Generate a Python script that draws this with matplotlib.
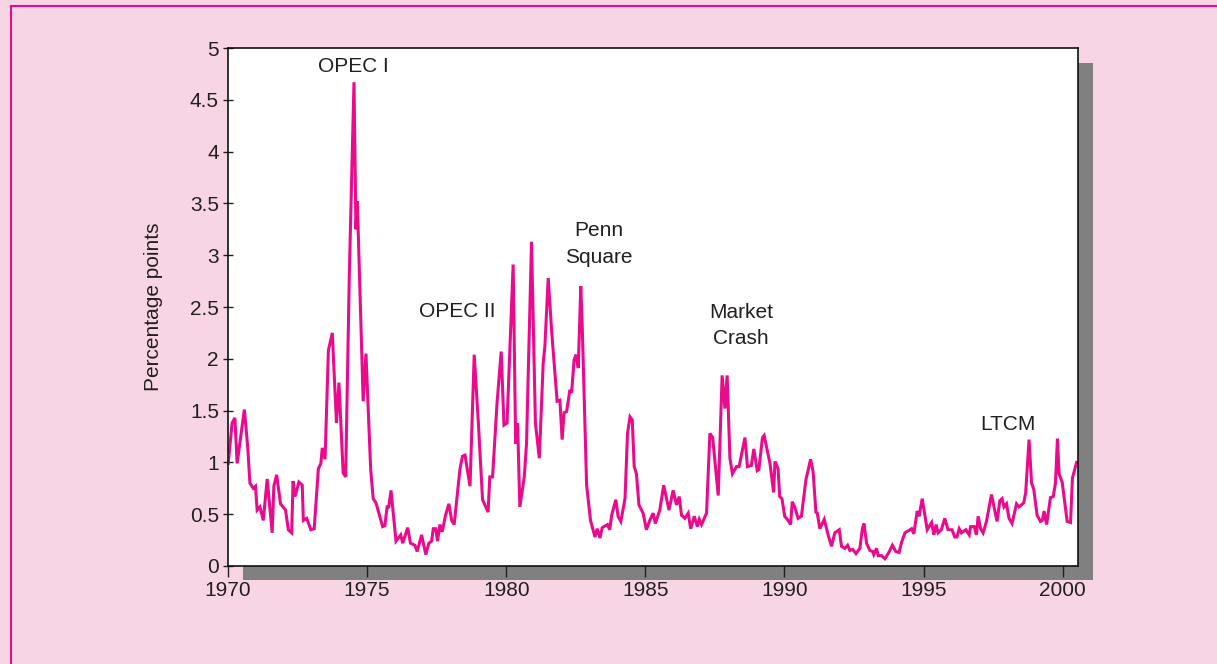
import matplotlib
matplotlib.use('Agg')
import matplotlib.pyplot as plt
from matplotlib.patches import Rectangle
from matplotlib.lines import Line2D
from matplotlib.transforms import ScaledTranslation
from matplotlib.ticker import FuncFormatter

plt.rcParams['font.family'] = ['Liberation Sans', 'DejaVu Sans']

# spread, percentage points (vertices)
years = [
    1970.01, 1970.15, 1970.25, 1970.33, 1970.59, 1970.71, 1970.79, 1970.91, 1970.99, 1971.05,
    1971.15, 1971.27, 1971.41, 1971.59, 1971.65, 1971.75, 1971.89, 1972.07, 1972.17, 1972.29,
    1972.34, 1972.41, 1972.55, 1972.67, 1972.71, 1972.83, 1972.98, 1973.10, 1973.25, 1973.34,
    1973.39, 1973.49, 1973.61, 1973.75, 1973.90, 1973.99, 1974.14, 1974.23, 1974.36, 1974.53,
    1974.60, 1974.65, 1974.86, 1974.96, 1975.13, 1975.22, 1975.32, 1975.56, 1975.64, 1975.72,
    1975.78, 1975.86, 1976.04, 1976.21, 1976.28, 1976.46, 1976.56, 1976.72, 1976.80, 1976.96,
    1977.11, 1977.22, 1977.32, 1977.38, 1977.47, 1977.53, 1977.62, 1977.70, 1977.82, 1977.94,
    1978.04, 1978.13, 1978.34, 1978.43, 1978.52, 1978.70, 1978.85, 1979.00, 1979.15, 1979.35,
    1979.41, 1979.51, 1979.67, 1979.82, 1979.92, 1980.03, 1980.25, 1980.34, 1980.41, 1980.49,
    1980.65, 1980.73, 1980.91, 1981.05, 1981.19, 1981.33, 1981.39, 1981.51, 1981.63, 1981.83,
    1981.93, 1982.01, 1982.08, 1982.17, 1982.29, 1982.35, 1982.44, 1982.51, 1982.59, 1982.68,
    1982.73, 1982.89, 1983.03, 1983.19, 1983.27, 1983.37, 1983.45, 1983.64, 1983.72, 1983.79,
    1983.94, 1984.02, 1984.12, 1984.27, 1984.36, 1984.45, 1984.53, 1984.60, 1984.68, 1984.77,
    1984.92, 1985.04, 1985.16, 1985.28, 1985.36, 1985.52, 1985.66, 1985.85, 1986.00, 1986.12,
    1986.22, 1986.30, 1986.42, 1986.54, 1986.63, 1986.76, 1986.87, 1986.94, 1987.02, 1987.20,
    1987.32, 1987.42, 1987.62, 1987.76, 1987.86, 1987.94, 1988.04, 1988.13, 1988.28, 1988.37,
    1988.58, 1988.67, 1988.81, 1988.90, 1989.02, 1989.08, 1989.21, 1989.27, 1989.48, 1989.61,
    1989.66, 1989.77, 1989.83, 1989.91, 1990.01, 1990.13, 1990.22, 1990.28, 1990.37, 1990.49,
    1990.61, 1990.77, 1990.94, 1991.03, 1991.13, 1991.18, 1991.27, 1991.43, 1991.57, 1991.69,
    1991.81, 1991.97, 1992.05, 1992.17, 1992.27, 1992.35, 1992.45, 1992.57, 1992.71, 1992.80,
    1992.86, 1992.95, 1993.07, 1993.17, 1993.21, 1993.31, 1993.37, 1993.49, 1993.61, 1993.73,
    1993.88, 1994.00, 1994.12, 1994.21, 1994.33, 1994.57, 1994.65, 1994.77, 1994.84, 1994.95,
    1995.13, 1995.29, 1995.37, 1995.45, 1995.52, 1995.64, 1995.76, 1995.88, 1996.02, 1996.12,
    1996.20, 1996.28, 1996.36, 1996.52, 1996.64, 1996.69, 1996.82, 1996.90, 1996.96, 1997.05,
    1997.14, 1997.26, 1997.44, 1997.64, 1997.74, 1997.82, 1997.89, 1997.98, 1998.07, 1998.18,
    1998.34, 1998.43, 1998.60, 1998.67, 1998.79, 1998.88, 1998.96, 1999.08, 1999.20, 1999.27,
    1999.33, 1999.42, 1999.56, 1999.66, 1999.74, 1999.81, 1999.87, 1999.98, 2000.16, 2000.28,
    2000.35, 2000.50,
]
spread = [
    0.99, 1.38, 1.43, 0.99, 1.51, 1.15, 0.80, 0.75, 0.77, 0.54,
    0.57, 0.44, 0.84, 0.32, 0.77, 0.88, 0.60, 0.54, 0.35, 0.32,
    0.82, 0.67, 0.81, 0.78, 0.44, 0.46, 0.35, 0.36, 0.94, 0.99,
    1.14, 1.03, 2.08, 2.25, 1.38, 1.77, 0.90, 0.86, 2.79, 4.67,
    3.25, 3.52, 1.59, 2.05, 0.93, 0.65, 0.61, 0.38, 0.39, 0.57,
    0.57, 0.73, 0.24, 0.30, 0.22, 0.37, 0.22, 0.20, 0.14, 0.30,
    0.11, 0.22, 0.24, 0.36, 0.36, 0.24, 0.40, 0.33, 0.49, 0.60,
    0.44, 0.40, 0.94, 1.06, 1.07, 0.77, 2.04, 1.38, 0.64, 0.52,
    0.86, 0.86, 1.57, 2.07, 1.36, 1.38, 2.91, 1.18, 1.38, 0.57,
    0.86, 1.18, 3.13, 1.38, 1.04, 1.96, 2.12, 2.78, 2.28, 1.59,
    1.60, 1.22, 1.48, 1.49, 1.70, 1.67, 1.99, 2.04, 1.91, 2.70,
    2.34, 0.78, 0.44, 0.28, 0.36, 0.27, 0.37, 0.40, 0.35, 0.49,
    0.64, 0.48, 0.43, 0.65, 1.28, 1.44, 1.41, 0.96, 0.89, 0.59,
    0.51, 0.35, 0.44, 0.51, 0.41, 0.54, 0.78, 0.54, 0.73, 0.59,
    0.67, 0.49, 0.46, 0.51, 0.36, 0.48, 0.38, 0.45, 0.40, 0.51,
    1.28, 1.24, 0.68, 1.84, 1.52, 1.84, 1.04, 0.89, 0.96, 0.96,
    1.24, 0.96, 0.97, 1.13, 0.92, 0.93, 1.24, 1.26, 0.99, 0.71,
    1.01, 0.94, 0.67, 0.65, 0.48, 0.44, 0.40, 0.62, 0.57, 0.46,
    0.48, 0.83, 1.03, 0.91, 0.52, 0.51, 0.36, 0.45, 0.30, 0.19,
    0.32, 0.35, 0.19, 0.17, 0.20, 0.15, 0.16, 0.12, 0.17, 0.36,
    0.41, 0.22, 0.15, 0.14, 0.11, 0.17, 0.10, 0.10, 0.07, 0.12,
    0.20, 0.14, 0.13, 0.23, 0.32, 0.36, 0.31, 0.53, 0.48, 0.65,
    0.35, 0.42, 0.30, 0.40, 0.32, 0.35, 0.46, 0.35, 0.35, 0.28,
    0.28, 0.36, 0.32, 0.35, 0.30, 0.38, 0.38, 0.30, 0.48, 0.36,
    0.32, 0.43, 0.69, 0.43, 0.63, 0.65, 0.57, 0.60, 0.46, 0.41,
    0.60, 0.57, 0.61, 0.71, 1.22, 0.80, 0.74, 0.49, 0.43, 0.44,
    0.53, 0.40, 0.66, 0.67, 0.80, 1.23, 0.89, 0.81, 0.43, 0.42,
    0.85, 1.00,
]

events = ['OPEC I', 'OPEC II', 'Penn\nSquare', 'Market\nCrash', 'LTCM']
event_x = [1974.49, 1978.23, 1983.33, 1988.43, 1998.03]
event_y = [4.82, 2.46, 3.11, 2.32, 1.37]

pink_bg = '#f8d5e5'
line_col = '#ea0a8c'
text_col = '#231f20'

fig = plt.figure(figsize=(12.17, 6.64), dpi=100)
fig.patch.set_facecolor(pink_bg)
ax = fig.add_axes([0.1873, 0.1476, 0.6985, 0.7801])
ax.set_facecolor('white')

# grey drop shadow behind the plot area
shadow = Rectangle((0, 0), 1, 1, facecolor='#808080', edgecolor='none', zorder=-1,
                   transform=ax.transAxes + ScaledTranslation(0.15, -0.145, fig.dpi_scale_trans))
fig.add_artist(shadow)

# magenta border at top and left
fig.add_artist(Line2D([11 / 1217, 1], [1 - 5.5 / 664] * 2, color=line_col, lw=1.5,
                      transform=fig.transFigure))
fig.add_artist(Line2D([11 / 1217] * 2, [0, 1 - 5.5 / 664], color=line_col, lw=1.5,
                      transform=fig.transFigure))

ax.plot(years, spread, color=line_col, lw=2.2, solid_joinstyle='miter')

for label, x, y in zip(events, event_x, event_y):
    ax.text(x, y, label, ha='center', va='center', fontsize=15, color=text_col,
            linespacing=1.5)

ax.set_xlim(1970, 2000.55)
ax.set_ylim(0, 5)
ax.set_xticks([1970, 1975, 1980, 1985, 1990, 1995, 2000])
ax.set_yticks([0, 0.5, 1, 1.5, 2, 2.5, 3, 3.5, 4, 4.5, 5])
ax.yaxis.set_major_formatter(FuncFormatter(lambda v, p: '{:g}'.format(v)))
ax.tick_params(axis='x', direction='out', length=8, width=1, colors=text_col,
               labelsize=15, pad=3)
ax.tick_params(axis='y', direction='inout', length=7, width=1, colors=text_col,
               labelsize=15, pad=3)
for s in ax.spines.values():
    s.set_color('#111111')
    s.set_linewidth(1.2)

ax.set_ylabel('Percentage points', fontsize=15, color=text_col, labelpad=19)

fig.savefig('out.png', dpi=100, facecolor=pink_bg)
